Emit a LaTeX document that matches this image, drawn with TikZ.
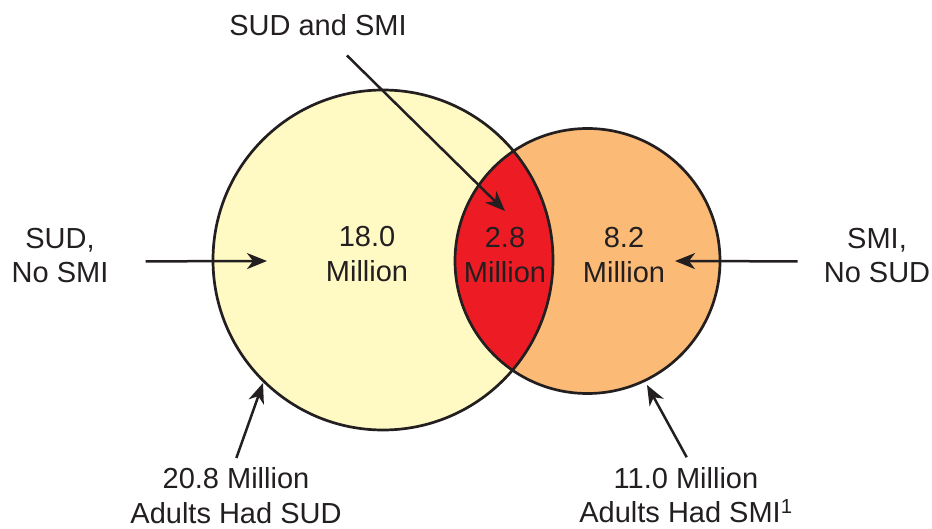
\documentclass[tikz,border=0pt]{standalone}
\usepackage{fontspec}
\setmainfont{Liberation Sans}
\usetikzlibrary{arrows.meta}
\definecolor{sudfill}{HTML}{FFF9C4}
\definecolor{smifill}{HTML}{FBBA76}
\definecolor{bothfill}{HTML}{ED1C24}
\definecolor{ink}{HTML}{231F20}
\begin{document}
\begin{tikzpicture}
    [x=1pt, y=-1pt,
     lbl/.style={align=center, inner sep=0pt, text=ink,
       font=\fontsize{29}{34.5}\selectfont},
     venn/.style={circle, inner sep=0pt},
     arr/.style={-{Stealth[length=20pt, width=16pt, inset=6pt]},
       line width=2.5pt, draw=ink}]
    \useasboundingbox (0,0) rectangle (932,529);
    \def \rsud {170}
    \def \rsmi {132.5}

    % the two sets and their overlap
    \node[venn, fill=sudfill, minimum size=2*\rsud pt] (sud) at (383,260) {};
    \node[venn, fill=smifill, minimum size=2*\rsmi pt] (smi) at (587.5,261) {};
    \begin{scope}
      \clip (sud.center) circle (\rsud pt);
      \fill[bothfill] (smi.center) circle (\rsmi pt);
    \end{scope}
    \draw[ink, line width=2.7pt] (sud.center) circle (\rsud pt)
      (smi.center) circle (\rsmi pt);

    % counts
    \node[lbl] (sudnum) at (367,254) {18.0\\Million};
    \node[lbl] (bothnum) at (505,255) {2.8\\Million};
    \node[lbl] (sminum) at (624,255) {8.2\\Million};

    % outside labels
    \node[lbl] (both) at (318,25) {SUD and SMI};
    \node[lbl] (sudonly) at (60,255.5) {SUD,\\No SMI};
    \node[lbl] (smionly) at (877,255.5) {SMI,\\No SUD};
    \node[lbl] (sudtotal) at (236,495.5) {20.8 Million\\Adults Had SUD};
    \node[lbl] (smitotal) at (686,495) {11.0 Million\\Adults Had SMI\textsuperscript{1}};

    % arrow tips
    \coordinate (bothtip) at (505,211);
    \coordinate (sudtip) at (267,261);
    \coordinate (smitip) at (675,261);
    \coordinate (sudtottip) at (263,383);
    \coordinate (smitottip) at (647,385);

    \draw[arr, shorten <=28pt] ([xshift=9pt]both.south) -- (bothtip);
    \draw[arr, shorten <=37pt] ([yshift=-6pt]sudonly.east) -- (sudtip);
    \draw[arr, shorten <=26pt] ([yshift=-6pt]smionly.west) -- (smitip);
    \draw[arr, shorten <=10pt] ([xshift=-3pt]sudtotal.north) -- (sudtottip);
    \draw[arr, shorten <=11pt] ([xshift=6pt]smitotal.north) -- (smitottip);
  \end{tikzpicture}
\end{document}
